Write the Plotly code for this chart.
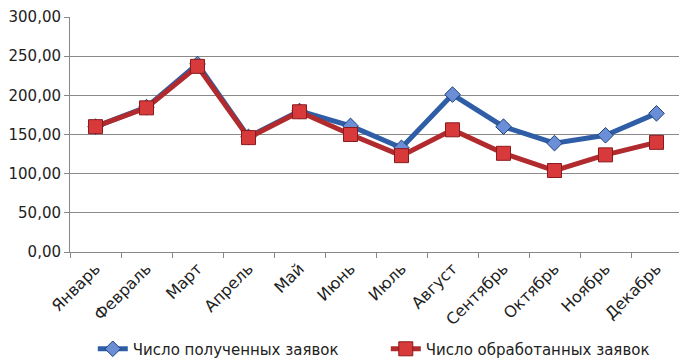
import plotly.graph_objects as go

months = ["Январь", "Февраль", "Март", "Апрель", "Май", "Июнь", "Июль",
          "Август", "Сентябрь", "Октябрь", "Ноябрь", "Декабрь"]
received = [160, 185, 240, 147, 180, 161, 133, 201, 160, 139, 149, 177]
processed = [160, 184, 237, 146, 179, 150, 123, 156, 126, 104, 124, 140]
y_ticks = [0, 50, 100, 150, 200, 250, 300]
y_tick_text = ["0,00", "50,00", "100,00", "150,00", "200,00", "250,00", "300,00"]

fig = go.Figure()
fig.add_trace(go.Scatter(
    x=months, y=received, mode="lines+markers", name="Число полученных заявок",
    line=dict(color="#2F5EA6", width=5),
    marker=dict(symbol="diamond", size=12, color="#6A8FD6",
                line=dict(color="#1F3F78", width=1)),
))
fig.add_trace(go.Scatter(
    x=months, y=processed, mode="lines+markers", name="Число обработанных заявок",
    line=dict(color="#B02A2E", width=5),
    marker=dict(symbol="square", size=14, color="#D83A3C",
                line=dict(color="#8A1A1C", width=1)),
))

fig.update_layout(
    width=679, height=356,
    margin=dict(l=62, r=5, t=9, b=112, autoexpand=False),
    paper_bgcolor="white", plot_bgcolor="white",
    font=dict(family="DejaVu Sans, sans-serif", size=14, color="#222"),
    showlegend=True,
    legend=dict(orientation="h", x=0.516, xanchor="center", y=-0.413, yanchor="middle",
                font=dict(size=15), entrywidth=248, entrywidthmode="pixels"),
)
fig.update_xaxes(
    type="category", range=[-0.5, len(months) - 0.5],
    tickangle=-45, tickson="boundaries", automargin=False,
    ticks="outside", ticklen=5, tickcolor="#888", ticklabeloverflow="allow",
    showline=True, linecolor="#888", linewidth=1, showgrid=False,
    tickfont=dict(size=16),
)
fig.update_yaxes(
    range=[0, 300], tickvals=y_ticks, ticktext=y_tick_text, automargin=False,
    ticks="outside", ticklen=5, tickcolor="#888", ticklabeloverflow="allow",
    showline=True, linecolor="#888", linewidth=1,
    showgrid=True, gridcolor="#8a8a8a", gridwidth=1, zeroline=False,
    tickfont=dict(size=15),
)

fig.write_html("out.html")
